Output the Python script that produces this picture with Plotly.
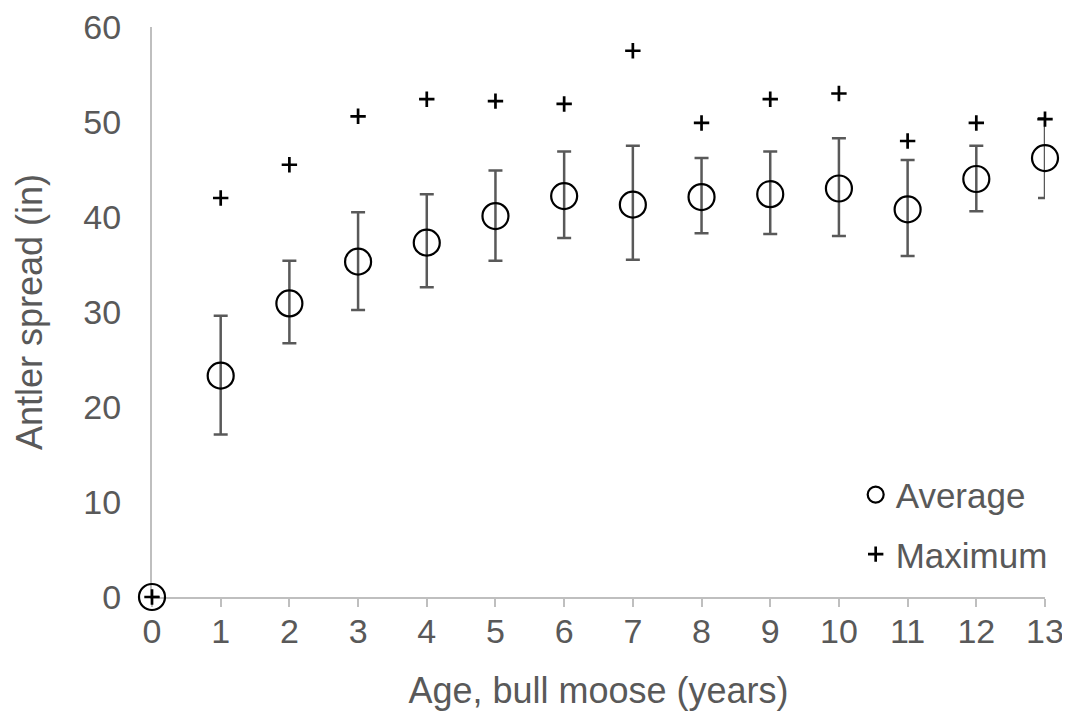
import plotly.graph_objects as go

age = [0, 1, 2, 3, 4, 5, 6, 7, 8, 9, 10, 11, 12, 13]
avg_spread = [0, 23.3, 30.9, 35.3, 37.3, 40.1, 42.2, 41.3, 42.1, 42.4, 43.0, 40.8, 44.0, 46.2]
err_plus = [0, 6.3, 4.5, 5.2, 5.1, 4.8, 4.7, 6.2, 4.1, 4.5, 5.3, 5.2, 3.5, 4.2]
err_minus = [0, 6.2, 4.2, 5.1, 4.7, 4.7, 4.4, 5.8, 3.8, 4.2, 5.0, 4.9, 3.4, 4.2]
max_spread = [0, 42.0, 45.5, 50.6, 52.4, 52.2, 51.9, 57.5, 49.9, 52.4, 53.0, 48.0, 49.9, 50.3]

FONT = "Liberation Sans, Arial, sans-serif"
GRAY = "#595959"
AXIS = "#BFBFBF"

fig = go.Figure()
fig.add_trace(go.Scatter(
    x=age, y=avg_spread, mode="markers", name="Average", legendgroup="a",
    marker=dict(symbol="circle-open", size=26, color="black", line=dict(width=2.2, color="black")),
    error_y=dict(type="data", symmetric=False, array=err_plus, arrayminus=err_minus,
                 color=GRAY, thickness=2.5, width=7),
    cliponaxis=False,
))
fig.add_trace(go.Scatter(
    x=age, y=max_spread, mode="markers", name="Maximum", legendgroup="b",
    marker=dict(symbol="cross-thin", size=11, color="black", line=dict(width=2.7, color="black")),
    cliponaxis=False,
))

# page body has an 8px default margin, compensate for it
fig.update_layout(
    width=1062, height=703,
    margin=dict(l=144, r=25, t=19, b=114),
    plot_bgcolor="white", paper_bgcolor="white",
    font=dict(family=FONT, color=GRAY, size=34),
    showlegend=True,
    legend=dict(x=0.788, y=0.231, xanchor="left", yanchor="top",
                font=dict(size=35, color=GRAY), bgcolor="rgba(0,0,0,0)",
                traceorder="grouped", tracegroupgap=11, itemsizing="trace"),
    xaxis=dict(range=[0, 13], tickmode="array", tickvals=age, ticktext=[str(a) for a in age],
               automargin=False, ticklabeloverflow="allow", layer="below traces",
               showgrid=False, zeroline=False, showline=True, linecolor=AXIS, linewidth=2,
               ticks="outside", ticklen=8, tickwidth=2, tickcolor=AXIS,
               ticklabelstandoff=-5,
               tickfont=dict(size=34, color=GRAY),
               title=dict(text="Age, bull moose (years)", font=dict(size=36, color=GRAY), standoff=29)),
    yaxis=dict(range=[0, 60], tickvals=[0, 10, 20, 30, 40, 50, 60],
               automargin=False, ticklabeloverflow="allow", layer="below traces",
               showgrid=False, zeroline=False, showline=True, linecolor=AXIS, linewidth=2,
               ticks="", ticklabelstandoff=22,
               tickfont=dict(size=34, color=GRAY),
               title=dict(text="Antler spread (in)", font=dict(size=36, color=GRAY), standoff=30)),
)

fig.write_html("out.html")
